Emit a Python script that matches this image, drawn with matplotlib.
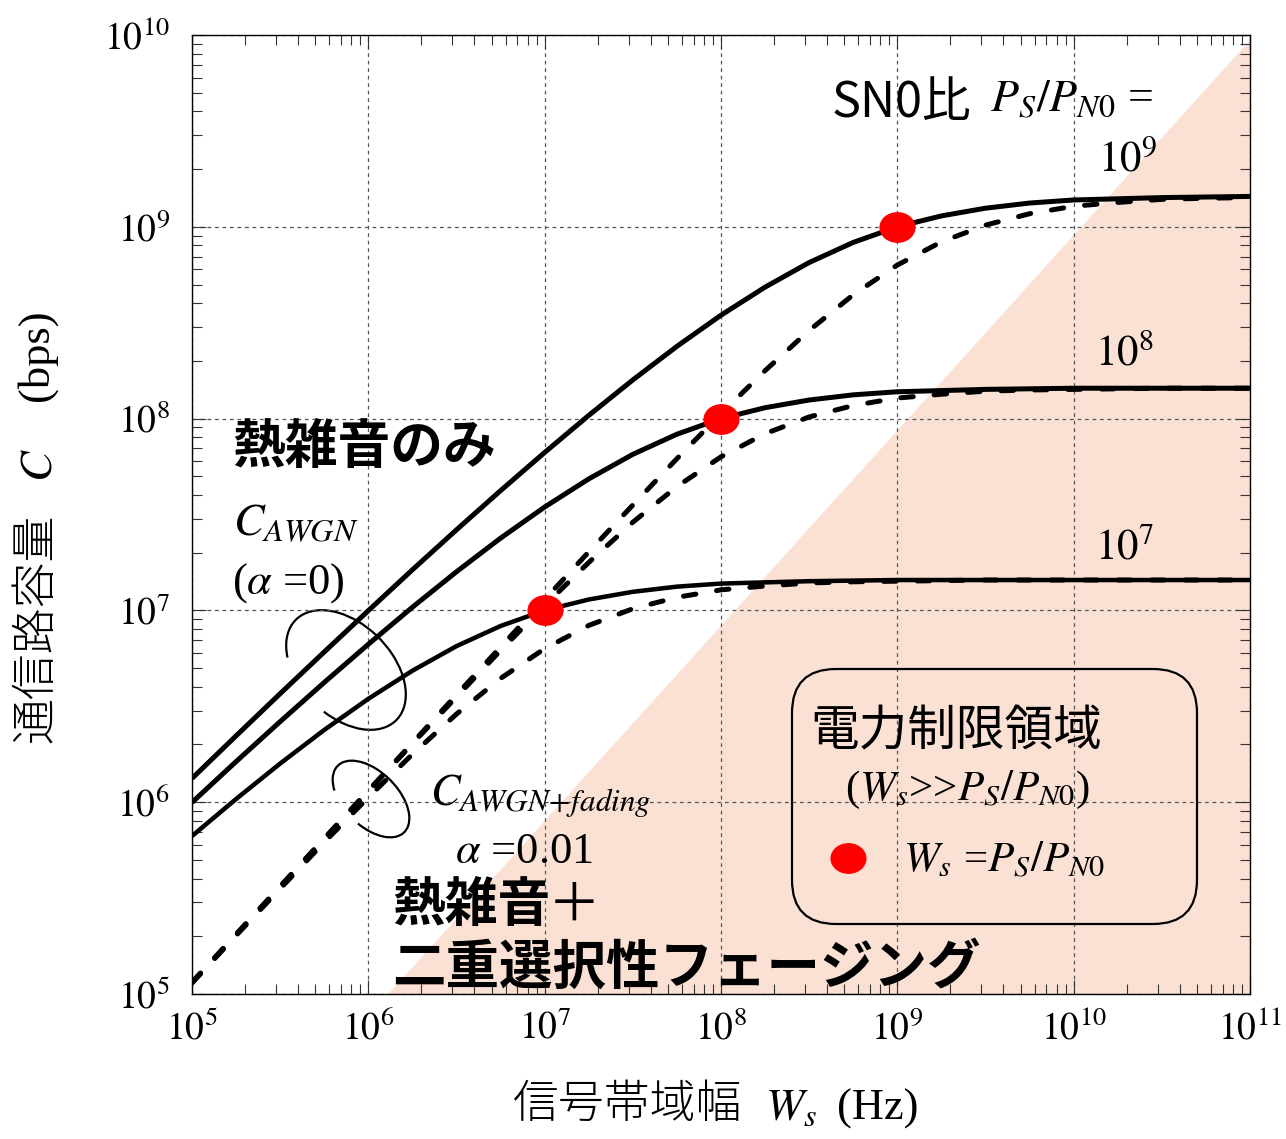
import matplotlib
matplotlib.use("Agg")
import matplotlib.pyplot as plt
from matplotlib import patches, transforms
from matplotlib.path import Path

# signal bandwidth W_s (Hz), quarter-decade steps
w_hz = [1e5, 1.78e5, 3.16e5, 5.62e5, 1e6, 1.78e6, 3.16e6, 5.62e6, 1e7,
        1.78e7, 3.16e7, 5.62e7, 1e8, 1.78e8, 3.16e8, 5.62e8, 1e9, 1.78e9,
        3.16e9, 5.62e9, 1e10, 1.78e10, 3.16e10, 5.62e10, 1e11]

# thermal noise only (alpha = 0), C in bps
awgn_1e9 = [1.33e6, 2.22e6, 3.68e6, 6.07e6, 9.97e6, 1.63e7, 2.63e7, 4.21e7,
            6.66e7, 1.04e8, 1.59e8, 2.38e8, 3.46e8, 4.85e8, 6.51e8, 8.29e8,
            1.00e9, 1.14e9, 1.25e9, 1.33e9, 1.38e9, 1.40e9, 1.42e9, 1.43e9,
            1.44e9]
awgn_1e8 = [9.97e5, 1.63e6, 2.63e6, 4.21e6, 6.66e6, 1.04e7, 1.59e7, 2.38e7,
            3.46e7, 4.85e7, 6.51e7, 8.29e7, 1.00e8, 1.14e8, 1.25e8, 1.33e8,
            1.38e8, 1.40e8, 1.42e8, 1.43e8, 1.44e8, 1.44e8, 1.44e8, 1.44e8,
            1.44e8]
awgn_1e7 = [6.66e5, 1.04e6, 1.59e6, 2.38e6, 3.46e6, 4.85e6, 6.51e6, 8.29e6,
            1.00e7, 1.14e7, 1.25e7, 1.33e7, 1.38e7, 1.40e7, 1.42e7, 1.43e7,
            1.44e7, 1.44e7, 1.44e7, 1.44e7, 1.44e7, 1.44e7, 1.44e7, 1.44e7,
            1.44e7]

# thermal noise + doubly selective fading (alpha = 0.01)
fad_1e9 = [1.15e5, 2.05e5, 3.64e5, 6.47e5, 1.15e6, 2.04e6, 3.63e6, 6.44e6,
           1.14e7, 2.02e7, 3.54e7, 6.18e7, 1.06e8, 1.78e8, 2.88e8, 4.42e8,
           6.32e8, 8.35e8, 1.02e9, 1.17e9, 1.28e9, 1.34e9, 1.39e9, 1.41e9,
           1.42e9]
fad_1e8 = [1.15e5, 2.04e5, 3.63e5, 6.44e5, 1.14e6, 2.02e6, 3.54e6, 6.18e6,
           1.06e7, 1.78e7, 2.88e7, 4.42e7, 6.32e7, 8.35e7, 1.02e8, 1.17e8,
           1.28e8, 1.34e8, 1.39e8, 1.41e8, 1.42e8, 1.43e8, 1.44e8, 1.44e8,
           1.44e8]
fad_1e7 = [1.14e5, 2.02e5, 3.54e5, 6.18e5, 1.06e6, 1.78e6, 2.88e6, 4.42e6,
           6.32e6, 8.35e6, 1.02e7, 1.17e7, 1.28e7, 1.34e7, 1.39e7, 1.41e7,
           1.42e7, 1.43e7, 1.44e7, 1.44e7, 1.44e7, 1.44e7, 1.44e7, 1.44e7,
           1.44e7]

# W_s = P_S/P_N0 points
dot_w = [1e7, 1e8, 1e9]
dot_c = [1e7, 1e8, 1e9]

# power limited region (shaded)
region_w = [1.3e6, 1e11, 1e11]
region_c = [1e5, 9.4e9, 1e5]

decades_x = [1e5, 1e6, 1e7, 1e8, 1e9, 1e10, 1e11]
labels_x = [r"$10^{5}$", r"$10^{6}$", r"$10^{7}$", r"$10^{8}$",
            r"$10^{9}$", r"$10^{10}$", r"$10^{11}$"]
decades_y = [1e5, 1e6, 1e7, 1e8, 1e9, 1e10]
labels_y = [r"$10^{5}$", r"$10^{6}$", r"$10^{7}$", r"$10^{8}$",
            r"$10^{9}$", r"$10^{10}$"]

plt.rcParams["font.family"] = ["Liberation Serif", "Noto Sans CJK JP"]
plt.rcParams["mathtext.fontset"] = "stix"

W, H = 1286, 1139
fig = plt.figure(figsize=(W / 100, H / 100), dpi=100)
ax = fig.add_axes([192 / W, 1 - 994 / H, (1250 - 192) / W, (994 - 35) / H])
# image-pixel coordinates (x right, y down) for annotations
pix = transforms.Affine2D().scale(1 / W, -1 / H).translate(0, 1) + fig.transFigure

ax.fill(region_w, region_c, color="#fbe1d4", lw=0, zorder=0.5)

lw = 3.6
ax.plot(w_hz, awgn_1e9, color="black", lw=lw, solid_capstyle="butt")
ax.plot(w_hz, awgn_1e8, color="black", lw=lw, solid_capstyle="butt")
ax.plot(w_hz, awgn_1e7, color="black", lw=lw * 0.9, solid_capstyle="butt")
for c in (fad_1e9, fad_1e8, fad_1e7):
    ax.plot(w_hz, c, color="black", lw=lw, dashes=(2.5, 4.2),
            dash_capstyle="round")

ell = Path.unit_circle().transformed(transforms.Affine2D().scale(1.18, 1.0))
ax.plot(dot_w, dot_c, ls="none", marker=ell, ms=25, color="red",
        mec="red", zorder=5)

ax.set_xscale("log")
ax.set_yscale("log")
ax.set_xlim(1e5, 1e11)
ax.set_ylim(1e5, 1e10)
ax.set_xticks(decades_x, labels_x)
ax.set_yticks(decades_y, labels_y)
ax.tick_params(which="both", direction="in", top=True, right=True,
               color="#333333", width=0.8)
ax.tick_params(which="major", length=10, labelsize=27)
ax.tick_params(which="minor", length=7)
ax.tick_params(axis="x", pad=12)
ax.tick_params(axis="y", pad=16)
ax.grid(True, which="major", color="#555555", lw=0.9, ls=(0, (3, 3)))
for s in ax.spines.values():
    s.set_linewidth(1.0)

sans = ["Noto Sans CJK JP", "DejaVu Sans"]

# axis labels (CJK part and math part drawn separately)
fig.text(513, 1105, "信号帯域幅", transform=pix, family=sans, fontsize=33,
         fontweight="light", ha="left", va="center")
fig.text(765, 1120, r"$W_s$", transform=pix, fontsize=33, ha="left",
         va="baseline")
fig.text(837, 1120, "(Hz)", transform=pix, fontsize=32, ha="left",
         va="baseline")
fig.text(37, 628, "通信路容量", transform=pix, family=sans, fontsize=33,
         fontweight="light", rotation=90, ha="center", va="center")
fig.text(40, 465, r"$C$", transform=pix, fontsize=33, rotation=90,
         ha="center", va="center")
fig.text(37, 355, "(bps)", transform=pix, fontsize=32, rotation=90,
         ha="center", va="center")

# curve labels
ax.text(832, 103, "SN0比", transform=pix, family=sans, fontsize=35,
        ha="left", va="center")
ax.text(990, 112, r"$P_S/P_{N0}$ =", transform=pix, fontsize=33,
        ha="left", va="baseline")
ax.text(1098, 171, r"$10^9$", transform=pix, fontsize=31, ha="left",
        va="baseline")
ax.text(1095, 365, r"$10^8$", transform=pix, fontsize=31, ha="left",
        va="baseline")
ax.text(1095, 560, r"$10^7$", transform=pix, fontsize=31, ha="left",
        va="baseline")

ax.text(232, 447, "熱雑音のみ", transform=pix, family=sans, fontsize=38,
        fontweight="bold", ha="left", va="center")
ax.text(233, 535, r"$C_{AWGN}$", transform=pix, fontsize=33, ha="left",
        va="baseline")
ax.text(232, 594, r"($\alpha$ =0)", transform=pix, fontsize=32, ha="left",
        va="baseline")
ax.text(430, 805, r"$C_{AWGN\!+\!fading}$", transform=pix, fontsize=32,
        ha="left", va="baseline")
ax.text(455, 863, r"$\alpha$ =0.01", transform=pix, fontsize=32, ha="left",
        va="baseline")
ax.text(392, 905, "熱雑音", transform=pix, family=sans, fontsize=38,
        fontweight="bold", ha="left", va="center")
ax.text(548, 905, "＋", transform=pix, family=sans, fontsize=38,
        ha="left", va="center")
ax.text(392, 968, "二重選択性フェージング", transform=pix, family=sans,
        fontsize=38.5, fontweight="bold", ha="left", va="center")

# loops grouping the curves
ax.add_patch(patches.Arc((346, 670), 142, 92, angle=45, theta1=147,
                         theta2=73, transform=pix, lw=1.6, color="black",
                         clip_on=False))
ax.add_patch(patches.Arc((371, 799), 94, 54, angle=45, theta1=148,
                         theta2=73, transform=pix, lw=1.6, color="black",
                         clip_on=False))

# power limited region box
ax.add_patch(patches.FancyBboxPatch((792, 669), 405, 255,
                                    boxstyle="round,pad=0,rounding_size=44",
                                    transform=pix, fc="none", ec="black",
                                    lw=1.6, zorder=4, clip_on=False))
ax.text(810, 732, "電力制限領域", transform=pix, family=sans, fontsize=35,
        ha="left", va="center")
ax.text(845, 800, r"($W_s$>>$P_S/P_{N0}$)", transform=pix, fontsize=31,
        ha="left", va="baseline")
ax.plot([848], [858], transform=pix, ls="none", marker=ell, ms=25,
        color="red", clip_on=False, zorder=5)
ax.text(903, 872, r"$W_s$ =$P_S/P_{N0}$", transform=pix, fontsize=31,
        ha="left", va="baseline")

fig.savefig("out.png", dpi=100)
